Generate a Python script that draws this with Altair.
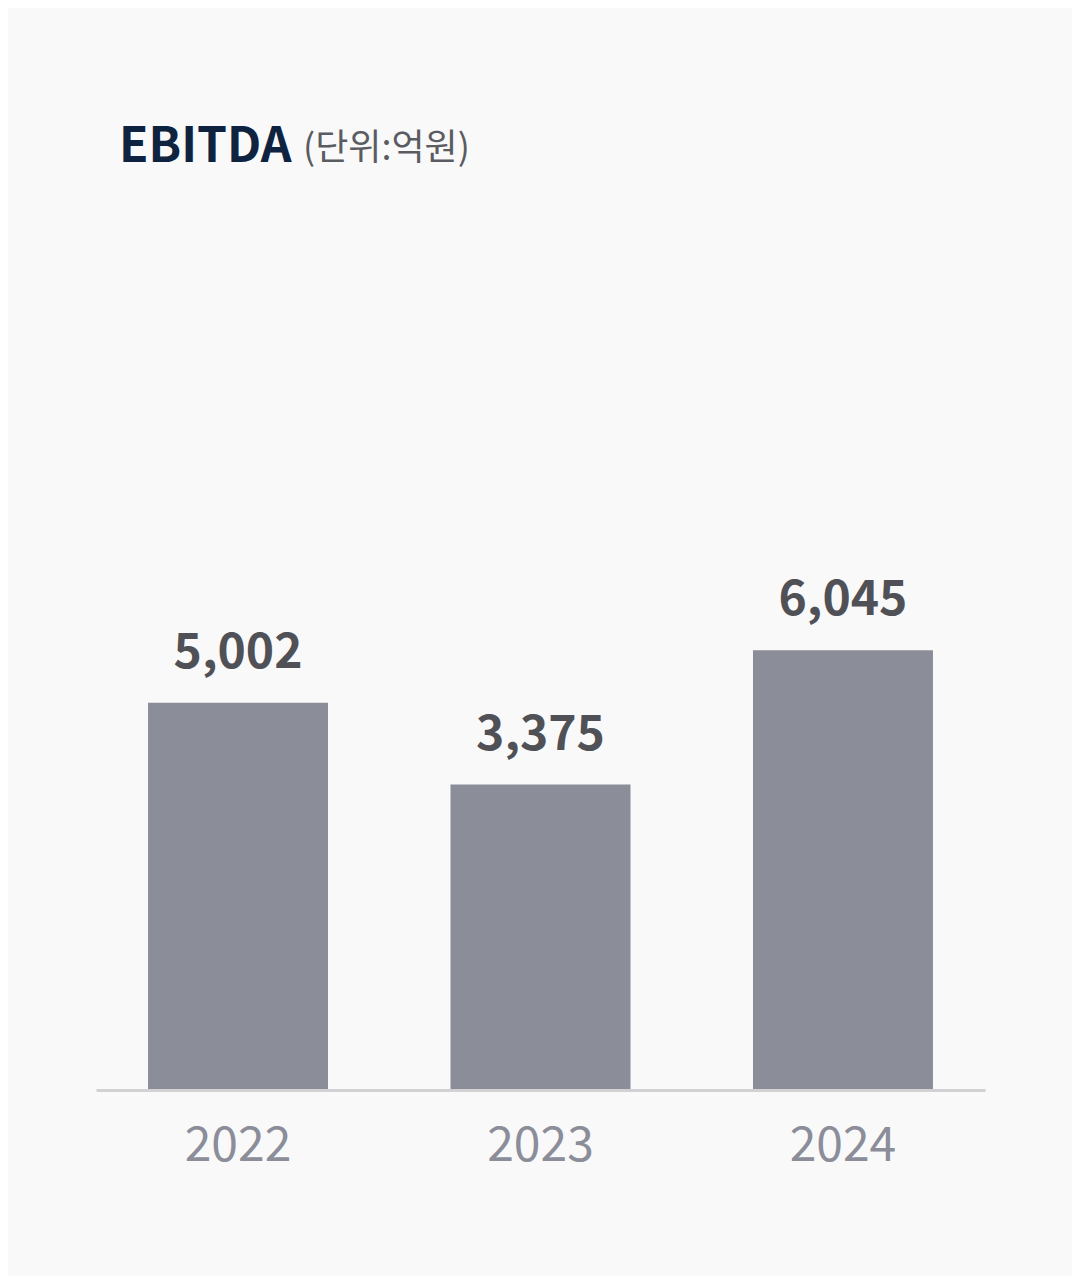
import altair as alt
import pandas as pd

years = ["2022", "2023", "2024"]
ebitda = [5002, 3375, 6045]
title_text = ["EBITDA"]
unit_text = ["(단위:억원)"]

FONT = "Noto Sans CJK KR"
BASE = -2700

df = pd.DataFrame({"year": years, "value": ebitda})

x_enc = alt.X(
    "year:N",
    sort=years,
    title=None,
    scale=alt.Scale(paddingInner=0.405, paddingOuter=0.172),
    axis=alt.Axis(
        labelAngle=0,
        labelFont=FONT,
        labelFontSize=48,
        labelColor="#8b8d99",
        labelBaseline="alphabetic",
        labelPadding=70,
        ticks=False,
        tickSize=0,
        domainColor="#d2d2d4",
        domainWidth=3,
        grid=False,
        zindex=1,
    ),
)
y_scale = alt.Scale(domain=[BASE, 15000], nice=False, zero=False)

bars = alt.Chart(df).mark_bar(color="#8b8d99").encode(
    x=x_enc,
    y=alt.Y("value:Q", scale=y_scale, axis=None),
    y2=alt.datum(BASE),
)

labels = alt.Chart(df).mark_text(
    font=FONT,
    fontSize=48,
    fontWeight="bold",
    color="#505157",
    baseline="alphabetic",
    align="center",
    dy=-35,
).encode(
    x=alt.X("year:N", sort=years),
    y=alt.Y("value:Q", scale=y_scale),
    text=alt.Text("value:Q", format=","),
)

title = alt.Chart(pd.DataFrame({"t": title_text})).mark_text(
    font=FONT,
    fontSize=48,
    fontWeight="bold",
    color="#0e2340",
    align="left",
    baseline="alphabetic",
).encode(text="t:N", x=alt.value(23), y=alt.value(-38))

unit = alt.Chart(pd.DataFrame({"t": unit_text})).mark_text(
    font=FONT,
    fontSize=36,
    color="#5b5c62",
    align="left",
    baseline="alphabetic",
).encode(text="t:N", x=alt.value(207), y=alt.value(-40))

chart = (
    alt.layer(bars, labels, title, unit)
    .properties(
        width=889,
        height=890,
        padding={"left": 88, "top": 192, "right": 87, "bottom": 186},
        autosize=alt.AutoSizeParams(type="none"),
        background="#f9f9f9",
    )
    .configure_view(stroke=None)
)

chart.save("out.html", embed_options={"renderer": "svg", "actions": False})
